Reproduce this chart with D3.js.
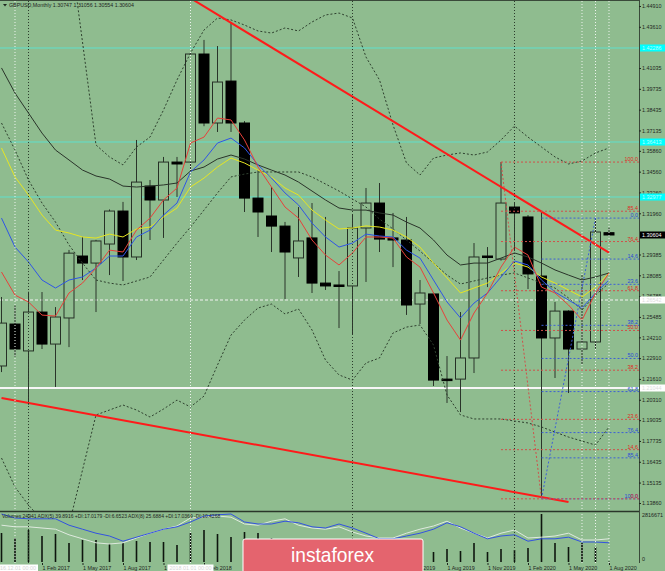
<!DOCTYPE html>
<html>
<head>
<meta charset="utf-8">
<script src="https://cdnjs.cloudflare.com/ajax/libs/d3/7.8.5/d3.min.js"></script>
<style>
  body { margin: 0; background: #8fbc8f; }
  svg { display: block; }
  text { font-family: "Liberation Sans", Arial, sans-serif; }
</style>
</head>
<body>
<div id="chart"></div>
<script>
// ---- data (GBPUSD monthly) ----
const months = ["2016-11","2016-12",
  "2017-01","2017-02","2017-03","2017-04","2017-05","2017-06","2017-07","2017-08","2017-09","2017-10","2017-11","2017-12",
  "2018-01","2018-02","2018-03","2018-04","2018-05","2018-06","2018-07","2018-08","2018-09","2018-10","2018-11","2018-12",
  "2019-01","2019-02","2019-03","2019-04","2019-05","2019-06","2019-07","2019-08","2019-09","2019-10","2019-11","2019-12",
  "2020-01","2020-02","2020-03","2020-04","2020-05","2020-06","2020-07","2020-08"];

const opens = [1.2242,1.2504,1.2336,1.2579,1.2379,1.2542,1.2929,1.2885,1.3004,1.3210,1.2923,1.3366,1.3279,1.3516,
  1.3516,1.4191,1.3760,1.4022,1.3760,1.3291,1.3179,1.3116,1.2917,1.3042,1.2760,1.2748,
  1.2742,1.3104,1.3260,1.3042,1.3029,1.2629,1.2692,1.2160,1.2160,1.2292,1.2929,1.2910,
  1.3235,1.3173,1.2804,1.2417,1.2585,1.2348,1.2392,1.30747];
const highs = [1.2673,1.2620,1.2706,1.2704,1.2610,1.2967,1.3048,1.3030,1.3220,1.3267,1.3654,1.3404,1.3548,1.3548,
  1.4200,1.4279,1.4241,1.4391,1.3772,1.3466,1.3360,1.3142,1.3235,1.3260,1.3173,1.2835,
  1.3190,1.3354,1.3385,1.3198,1.3173,1.2779,1.2700,1.2304,1.2579,1.3010,1.2985,1.3516,
  1.3260,1.3185,1.3210,1.2642,1.2590,1.2810,1.3166,1.31056];
const lows = [1.2204,1.2300,1.2000,1.2348,1.2111,1.2360,1.2779,1.2579,1.2810,1.2773,1.2904,1.3029,1.3042,1.3298,
  1.3460,1.3740,1.3704,1.3704,1.3204,1.3048,1.2954,1.2660,1.2798,1.2698,1.2717,1.2479,
  1.2436,1.2767,1.2954,1.2860,1.2561,1.2504,1.2117,1.2011,1.1954,1.2198,1.2735,1.2900,
  1.2960,1.2723,1.1417,1.2167,1.2073,1.2254,1.2350,1.30554];
const closes = [1.2510,1.2348,1.2579,1.2379,1.2548,1.2947,1.2885,1.3023,1.3210,1.2923,1.3391,1.3279,1.3516,1.3504,
  1.4191,1.3760,1.4016,1.3760,1.3291,1.3204,1.3116,1.2954,1.3023,1.2760,1.2742,1.2742,
  1.3104,1.3260,1.3035,1.3029,1.2623,1.2698,1.2154,1.2158,1.2292,1.2923,1.2923,1.3260,
  1.3198,1.2817,1.2417,1.2585,1.2348,1.2392,1.3079,1.30604];

const maRed = [1.2829,1.2685,1.2642,1.2560,1.2554,1.2698,1.2760,1.2854,1.2966,1.2954,1.3091,1.3166,1.3279,1.3354,
  1.3635,1.3672,1.3791,1.3779,1.3654,1.3485,1.3360,1.3235,1.3166,1.3029,1.2935,1.2873,
  1.2948,1.3048,1.3048,1.3041,1.2923,1.2860,1.2698,1.2529,1.2404,1.2573,1.2698,1.2860,
  1.2985,1.2935,1.2735,1.2698,1.2623,1.2529,1.2698,1.2823];
const maBlue = [1.3166,1.2985,1.2892,1.2779,1.2729,1.2779,1.2798,1.2854,1.2929,1.2929,1.3048,1.3091,1.3185,1.3260,
  1.3454,1.3529,1.3635,1.3666,1.3604,1.3498,1.3416,1.3323,1.3248,1.3135,1.3048,1.2985,
  1.3010,1.3066,1.3054,1.3048,1.2966,1.2916,1.2779,1.2642,1.2542,1.2635,1.2698,1.2798,
  1.2898,1.2873,1.2779,1.2704,1.2654,1.2604,1.2698,1.2779];
const maYellow = [1.3604,1.3423,1.3310,1.3185,1.3091,1.3073,1.3048,1.3041,1.3066,1.3048,1.3098,1.3110,1.3173,1.3229,
  1.3360,1.3416,1.3485,1.3541,1.3510,1.3466,1.3423,1.3354,1.3310,1.3216,1.3154,1.3098,
  1.3104,1.3117,1.3110,1.3091,1.3048,1.2985,1.2885,1.2792,1.2698,1.2729,1.2760,1.2823,
  1.2885,1.2860,1.2798,1.2760,1.2717,1.2673,1.2735,1.2823];
const maBlack = [1.4104,1.3947,1.3822,1.3697,1.3591,1.3529,1.3466,1.3429,1.3410,1.3366,1.3360,1.3366,1.3373,1.3385,
  1.3460,1.3485,1.3535,1.3560,1.3535,1.3498,1.3466,1.3435,1.3391,1.3335,1.3279,1.3229,
  1.3216,1.3216,1.3198,1.3185,1.3141,1.3104,1.3029,1.2935,1.2873,1.2885,1.2885,1.2916,
  1.2948,1.2923,1.2885,1.2842,1.2810,1.2779,1.2798,1.2823];

const bandUpperOuter = [1.5778,1.5653,1.5528,1.5403,1.5216,1.4903,1.4266,1.3623,1.3548,1.3498,1.3610,1.3672,1.3841,1.4029,
  1.4197,1.4341,1.4416,1.4404,1.4372,1.4335,1.4322,1.4354,1.4335,1.4391,1.4435,1.4447,
  1.4416,1.4172,1.4029,1.3748,1.3510,1.3435,1.3541,1.3560,1.3573,1.3560,1.3579,1.3654,
  1.3741,1.3672,1.3610,1.3548,1.3504,1.3523,1.3573,1.3604];
const bandUpperInner = [1.3760,1.3591,1.3404,1.3260,1.3141,1.2998,1.2885,1.2779,1.2760,1.2748,1.2773,1.2798,1.2904,1.3010,
  1.3110,1.3216,1.3323,1.3423,1.3441,1.3454,1.3454,1.3454,1.3454,1.3423,1.3379,1.3335,
  1.3285,1.3235,1.3160,1.3098,1.3029,1.2960,1.2885,1.2810,1.2754,1.2773,1.2792,1.2810,
  1.2823,1.2792,1.2760,1.2729,1.2667,1.2592,1.2685,1.2760];
const bandLowerInner = [1.1667,1.1486,1.1373,1.1280,1.1217,1.1248,1.1592,1.1936,1.1967,1.1998,1.1967,1.1923,1.1973,1.2029,
  1.1986,1.2054,1.2248,1.2435,1.2529,1.2604,1.2629,1.2567,1.2598,1.2467,1.2279,1.2186,
  1.2154,1.2261,1.2292,1.2448,1.2485,1.2498,1.2373,1.2061,1.1936,1.1911,1.1911,1.1911,
  1.1898,1.1886,1.1861,1.1829,1.1798,1.1773,1.1748,1.1861];

const volumes = [1702000,1408000,1878000,1526000,1643000,1115000,1291000,1291000,1056000,1115000,1232000,1174000,1174000,998000,
  1702000,1878000,1643000,1467000,1760000,1702000,1408000,1250000,1150000,1300000,1050000,950000,
  1300000,1150000,1250000,950000,1050000,900000,587000,763000,645000,1115000,587000,763000,
  704000,822000,2816671,1115000,880000,1115000,880000,24941];
const adxBlue = [60,55,54,54,54,46,41,36,32.5,26,31,36,41,44,50,57.5,59,60,50,47.5,47.5,51,49,44,42.5,47.5,
  42.5,36,29,29,32.5,36,41,49,44,36,29,32.5,34,26,29,29,31,25,25,24];
const adxLight = [46,44,44,42.5,41,34,29,24,22.5,24,30,36,41,45,55,56,57.5,56,47.5,46,51,54,46,42.5,41,44,
  37.5,32.5,30,30,36,41,45,51,42.5,36,30,36,40,30,31,32.5,36,27.5,27.5,29];

const priceTicks = [1.44910,1.43610,1.41035,1.39735,1.38435,1.37135,1.35860,1.34560,1.33260,1.31960,1.29385,
  1.28085,1.26785,1.25485,1.24210,1.22910,1.21610,1.20310,1.19035,1.17735,1.16435,1.15135,1.13860];
const monthTicks = ["2017-02","2017-05","2017-08","2017-11","2018-02","2018-05","2018-08","2018-11",
  "2019-02","2019-05","2019-08","2019-11","2020-02","2020-05","2020-08"];

const fibRatios = [0, 14.6, 23.6, 38.2, 50.0, 61.8, 76.4, 85.4, 100.0];
const redFib = [["2019-12", 1.3516], ["2020-03", 1.1412]];
const blueFib = [["2020-03", 1.1412], ["2020-07", 1.3166]];
const trendUpper = [["2018-01", 1.4540], ["2020-08", 1.2950]];
const trendLower = [["2016-11", 1.2042], ["2020-05", 1.1392]];
const cyanLevels = [1.42286, 1.36413, 1.32977];
const whiteLevels = [1.26542, 1.21044];
const yearSeparators = ["2017-01", "2019-01", "2020-01"];
const whiteVLines = ["2016-12", "2018-01", "2020-06", "2020-07", "2020-08"];
const labelledVLines = ["2016-12", "2018-01"];
const lastPrice = 1.30604;

// ---- layout ----
const SVG_WIDTH = 665;
const SVG_HEIGHT = 571;
const PLOT = { right: 639, mainBottom: 511, volTop: 512, volBottom: 563 };
const BG = "#8fbc8f";
const INK = "#1e261e";
const FS = 5.4;

const svg = d3.select("#chart").append("svg")
  .attr("width", SVG_WIDTH).attr("height", SVG_HEIGHT);
svg.append("rect").attr("width", SVG_WIDTH).attr("height", SVG_HEIGHT).attr("fill", BG);

const defs = svg.append("defs");
defs.append("clipPath").attr("id", "clipMain").append("rect")
  .attr("x", 0).attr("y", 1).attr("width", PLOT.right).attr("height", PLOT.mainBottom - 1);
defs.append("clipPath").attr("id", "clipVol").append("rect")
  .attr("x", 0).attr("y", PLOT.volTop).attr("width", PLOT.right).attr("height", PLOT.volBottom - PLOT.volTop);

const x = d3.scalePoint().domain(months).range([1.5, 609]);
const y = d3.scaleLinear().domain([1.1386, 1.4491]).range([503, 6]);
const yVol = d3.scaleLinear().domain([0, 2816671]).range([562, 514]);
const yAdx = d3.scaleLinear().domain([0, 60]).range([562, 514]);

const main = svg.append("g").attr("clip-path", "url(#clipMain)");
const vol = svg.append("g").attr("clip-path", "url(#clipVol)");

const seriesLine = (scale) => d3.line().x((d, i) => x(months[i])).y((d) => scale(d));

// vertical lines through both panes
svg.append("g").selectAll("line").data(yearSeparators).join("line")
  .attr("x1", (d) => x(d)).attr("x2", (d) => x(d))
  .attr("y1", 1).attr("y2", PLOT.volBottom)
  .attr("stroke", "#2c3c2c").attr("stroke-dasharray", "1,2");
svg.append("g").selectAll("line").data(whiteVLines).join("line")
  .attr("x1", (d) => x(d)).attr("x2", (d) => x(d))
  .attr("y1", 1).attr("y2", PLOT.volBottom)
  .attr("stroke", "#eef4ee").attr("stroke-dasharray", "1,2");

// horizontal levels
main.selectAll(".cyan").data(cyanLevels).join("line")
  .attr("x1", 0).attr("x2", PLOT.right)
  .attr("y1", (d) => y(d)).attr("y2", (d) => y(d))
  .attr("stroke", "#5fe0cc").attr("stroke-width", 1);
main.append("line")
  .attr("x1", 0).attr("x2", PLOT.right)
  .attr("y1", y(whiteLevels[0])).attr("y2", y(whiteLevels[0]))
  .attr("stroke", "#f2f2f2").attr("stroke-dasharray", "3,2");
main.append("line")
  .attr("x1", 0).attr("x2", PLOT.right)
  .attr("y1", y(whiteLevels[1])).attr("y2", y(whiteLevels[1]))
  .attr("stroke", "#f6f6f6").attr("stroke-width", 2);

// candles
const idx = d3.range(months.length);
main.append("g").selectAll("line").data(idx).join("line")
  .attr("x1", (i) => x(months[i])).attr("x2", (i) => x(months[i]))
  .attr("y1", (i) => y(highs[i])).attr("y2", (i) => y(lows[i]))
  .attr("stroke", "#2a342a").attr("stroke-width", 1);
main.append("g").selectAll("rect").data(idx).join("rect")
  .attr("x", (i) => x(months[i]) - 5)
  .attr("width", 10)
  .attr("y", (i) => y(Math.max(opens[i], closes[i])))
  .attr("height", (i) => Math.max(1.5, Math.abs(y(opens[i]) - y(closes[i]))))
  .attr("fill", (i) => closes[i] >= opens[i] ? BG : "#000")
  .attr("stroke", (i) => closes[i] >= opens[i] ? "#263026" : "#000")
  .attr("stroke-width", 1);

// bands
[bandUpperOuter, bandUpperInner, bandLowerInner].forEach((band) => {
  main.append("path").attr("d", seriesLine(y)(band))
    .attr("fill", "none").attr("stroke", "#2e402e")
    .attr("stroke-width", 1).attr("stroke-dasharray", "2,2");
});

// moving averages
[[maBlack, "#2a342a"], [maYellow, "#e6e622"], [maBlue, "#2f55e6"], [maRed, "#e8403a"]].forEach(([s, c]) => {
  main.append("path").attr("d", seriesLine(y)(s))
    .attr("fill", "none").attr("stroke", c).attr("stroke-width", 1);
});

// fibonacci retracements
function drawFib(anchor, lineColor, textColor) {
  const [p1, p2] = anchor;
  const g = svg.append("g");
  const levels = fibRatios.map((r) => ({ r: r, price: p2[1] + r / 100 * (p1[1] - p2[1]) }));
  g.append("line")
    .attr("x1", x(p1[0])).attr("y1", y(p1[1]))
    .attr("x2", x(p2[0])).attr("y2", y(p2[1]))
    .attr("stroke", lineColor).attr("stroke-dasharray", "2,2");
  g.selectAll("line.lvl").data(levels).join("line").attr("class", "lvl")
    .attr("x1", x(p1[0])).attr("x2", PLOT.right)
    .attr("y1", (d) => y(d.price)).attr("y2", (d) => y(d.price))
    .attr("stroke", lineColor).attr("stroke-dasharray", "2,2");
  g.selectAll("text").data(levels).join("text")
    .attr("x", PLOT.right - 1).attr("y", (d) => y(d.price) - 1)
    .attr("text-anchor", "end").attr("font-size", FS)
    .attr("fill", textColor)
    .text((d) => d3.format(".1f")(d.r));
}
drawFib(blueFib, "#3d5fd6", "#2a4ad8");
drawFib(redFib, "#d0504a", "#e02a22");

// trend lines
[trendUpper, trendLower].forEach((t) => {
  main.append("line")
    .attr("x1", x(t[0][0])).attr("y1", y(t[0][1]))
    .attr("x2", x(t[1][0])).attr("y2", y(t[1][1]))
    .attr("stroke", "#ff1a1a").attr("stroke-width", 2);
});

// volume pane
vol.append("g").selectAll("line").data(idx).join("line")
  .attr("x1", (i) => x(months[i])).attr("x2", (i) => x(months[i]))
  .attr("y1", yVol(0)).attr("y2", (i) => yVol(volumes[i]))
  .attr("stroke", "#0e160e").attr("stroke-width", 1.6);
vol.append("path").attr("d", seriesLine(yAdx)(adxLight))
  .attr("fill", "none").attr("stroke", "#dfeadf").attr("stroke-width", 1);
vol.append("path").attr("d", seriesLine(yAdx)(adxBlue))
  .attr("fill", "none").attr("stroke", "#3352e0").attr("stroke-width", 1);
svg.append("text").attr("x", 2).attr("y", 518).attr("font-size", 5)
  .attr("fill", INK)
  .text("Volumes 24941  ADX(5) 39.8916 +DI:17.0179 -DI:6.6523  ADX(8) 25.6884 +DI:17.0369 -DI:10.4268");

// frame
svg.append("line").attr("x1", 0).attr("x2", PLOT.right).attr("y1", 0.5).attr("y2", 0.5)
  .attr("stroke", "#3a4a3a");
svg.append("line").attr("x1", 0).attr("x2", PLOT.right)
  .attr("y1", PLOT.mainBottom + 0.5).attr("y2", PLOT.mainBottom + 0.5)
  .attr("stroke", "#2a362a").attr("stroke-width", 1.5);
svg.append("line").attr("x1", PLOT.right + 0.5).attr("x2", PLOT.right + 0.5)
  .attr("y1", 0).attr("y2", PLOT.volBottom)
  .attr("stroke", "#3a4a3a");

// price axis
const yAxis = d3.axisRight(y).tickValues(priceTicks).tickFormat(d3.format(".5f")).tickSize(2);
const yAxisG = svg.append("g").attr("transform", `translate(${PLOT.right}, 0)`).call(yAxis);
yAxisG.select(".domain").remove();
yAxisG.selectAll("line").attr("stroke", INK);
yAxisG.selectAll("text").attr("x", 3).attr("font-size", FS).attr("fill", INK)
  .attr("font-family", "Liberation Sans, Arial, sans-serif");

// volume axis
const volAxis = d3.axisRight(yVol).tickValues([0, 2816671]).tickFormat(d3.format("d")).tickSize(0);
const volAxisG = svg.append("g").attr("transform", `translate(${PLOT.right}, 0)`).call(volAxis);
volAxisG.select(".domain").remove();
volAxisG.selectAll("text").attr("x", 3).attr("font-size", FS).attr("fill", INK)
  .attr("font-family", "Liberation Sans, Arial, sans-serif")
  .attr("dy", (d) => d === 0 ? "-0.2em" : "0.5em");

// price tags on the axis
function priceTag(price, bg, fg) {
  const g = svg.append("g").attr("transform", `translate(${PLOT.right + 1}, ${y(price)})`);
  g.append("rect").attr("x", 0).attr("y", -3.5).attr("width", 25).attr("height", 7).attr("fill", bg);
  g.append("text").attr("x", 2).attr("y", 2).attr("font-size", FS).attr("fill", fg)
    .text(d3.format(".5f")(price));
}
cyanLevels.forEach((p) => priceTag(p, "#00ffff", "#b8ffff"));
whiteLevels.forEach((p) => priceTag(p, "#ffffff", "#dcdcdc"));
priceTag(lastPrice, "#000000", "#ffffff");

// time axis
const parseMonth = d3.timeParse("%Y-%m");
const xAxis = d3.axisBottom(x).tickValues(monthTicks)
  .tickFormat((m) => d3.timeFormat("%-d %b %Y")(parseMonth(m))).tickSize(2);
const xAxisG = svg.append("g").attr("transform", `translate(0, ${PLOT.volBottom})`).call(xAxis);
xAxisG.select(".domain").remove();
xAxisG.selectAll("line").attr("stroke", INK);
xAxisG.selectAll("text").attr("text-anchor", "start").attr("y", 3).attr("dy", "0.71em")
  .attr("font-size", FS).attr("fill", INK)
  .attr("font-family", "Liberation Sans, Arial, sans-serif");

labelledVLines.forEach((m) => {
  const g = svg.append("g").attr("transform", `translate(${x(m)}, 564.5)`);
  g.append("rect").attr("x", -23).attr("y", 0).attr("width", 46).attr("height", 7).attr("fill", "#ffffff");
  g.append("text").attr("x", 0).attr("y", 5.5).attr("text-anchor", "middle")
    .attr("font-size", FS).attr("fill", "#d4d4d4")
    .text(d3.timeFormat("%Y.%m.%d 00:00")(parseMonth(m)));
});

// title
svg.append("path").attr("d", "M3,4 L7,4 L5,6.5 Z").attr("fill", INK);
svg.append("text").attr("x", 9).attr("y", 7).attr("font-size", 5.3).attr("fill", INK)
  .text("GBPUSD,Monthly  1.30747 1.31056 1.30554 1.30604");

// watermark banner
const banner = svg.append("g");
banner.append("rect").attr("x", 243).attr("y", 539).attr("width", 180).attr("height", 40).attr("rx", 2)
  .attr("fill", "#e4646e").attr("stroke", "#ffffff").attr("stroke-width", 1);
banner.append("text").attr("x", 291).attr("y", 562)
  .attr("font-family", "Open Sans, sans-serif").attr("font-size", 21)
  .attr("textLength", 83).attr("lengthAdjust", "spacingAndGlyphs")
  .attr("fill", "#ffffff").text("instaforex");
</script>
</body>
</html>
